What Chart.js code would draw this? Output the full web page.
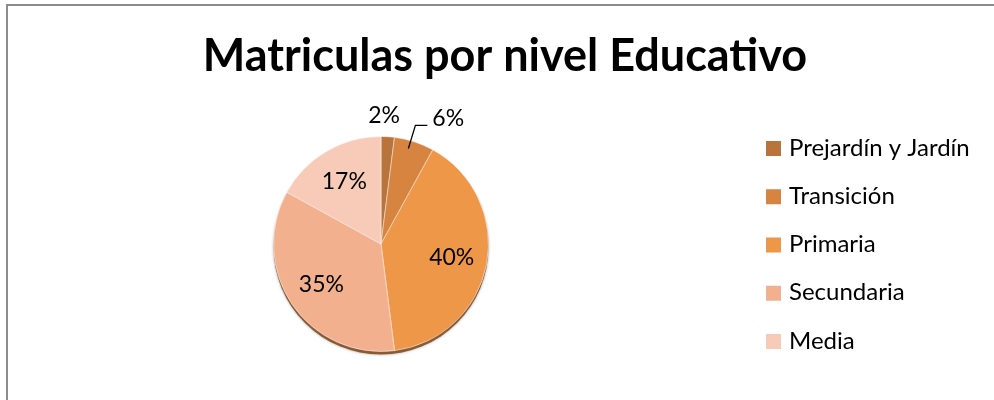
<!DOCTYPE html>
<html>
<head>
<meta charset="utf-8">
<script src="https://cdn.jsdelivr.net/npm/chart.js@4.4.1/dist/chart.umd.min.js"></script>
<style>
  html, body { margin:0; padding:0; background:#fff; overflow:hidden; }
  #wrap {
    position:absolute; left:6px; top:4px;
    width:1000px; height:396px;
    border-top:2px solid #8c8c8c; border-left:2px solid #8c8c8c;
  }
</style>
</head>
<body>
<div id="wrap"><canvas id="pieChart"></canvas></div>
<script>
const titulo = "Matriculas por nivel Educativo";
const niveles = ["Prejardín y Jardín", "Transición", "Primaria", "Secundaria", "Media"];
const porcentajes = [2, 6, 40, 35, 17];
const colores = ["#b8743b", "#d6843f", "#ee9748", "#f2b08f", "#f7cbb7"];

const FONT = "Lato, 'Open Sans', sans-serif";

// title centred over the whole box (not only the pie area)
const boxTitle = {
  id: "boxTitle",
  afterDraw(chart) {
    const ctx = chart.ctx;
    ctx.save();
    ctx.font = "bold 45px " + FONT;
    ctx.fillStyle = "#000";
    ctx.textAlign = "center";
    ctx.textBaseline = "middle";
    ctx.fillText(titulo, 497, 50);
    ctx.restore();
  }
};

// edge under the pie (Excel 3D look)
const pieEdge = {
  id: "pieEdge",
  beforeDatasetsDraw(chart) {
    const arc = chart.getDatasetMeta(0).data[0];
    if (!arc) return;
    const ctx = chart.ctx;
    ctx.save();
    ctx.fillStyle = "#8a5a33";
    ctx.shadowColor = "rgba(0,0,0,0.35)";
    ctx.shadowBlur = 3;
    ctx.beginPath();
    ctx.arc(arc.x, arc.y + 3, arc.outerRadius, 0, Math.PI * 2);
    ctx.fill();
    ctx.restore();
  }
};

// percent labels
const pctLabels = {
  id: "pctLabels",
  afterDatasetsDraw(chart) {
    const ctx = chart.ctx;
    const arcs = chart.getDatasetMeta(0).data;
    ctx.save();
    ctx.font = "23px " + FONT;
    ctx.fillStyle = "#000";
    ctx.textBaseline = "middle";
    arcs.forEach((arc, i) => {
      const v = porcentajes[i];
      const mid = (arc.startAngle + arc.endAngle) / 2;
      const r = arc.outerRadius;
      const txt = v + "%";
      if (v >= 10) {
        ctx.textAlign = "center";
        ctx.fillText(txt, arc.x + Math.cos(mid) * r * 0.67, arc.y + Math.sin(mid) * r * 0.67);
      } else if (i === 0) {
        ctx.textAlign = "center";
        ctx.fillText(txt, arc.x + Math.cos(mid) * r * 1.2 - 5, arc.y + Math.sin(mid) * r * 1.2);
      } else {
        // leader line
        const ex = arc.x + Math.cos(mid) * (r - 6);
        const ey = arc.y + Math.sin(mid) * (r - 6);
        ctx.strokeStyle = "#000";
        ctx.lineWidth = 1.2;
        ctx.beginPath();
        ctx.moveTo(ex - 4, ey + 1);
        ctx.lineTo(ex + 3, ey - 22);
        ctx.lineTo(ex + 15, ey - 22);
        ctx.stroke();
        ctx.textAlign = "left";
        ctx.fillText(txt, ex + 20, ey - 29);
      }
    });
    ctx.restore();
  }
};

// legend on the right
const sideLegend = {
  id: "sideLegend",
  afterDraw(chart) {
    const ctx = chart.ctx;
    ctx.save();
    ctx.font = "24px " + FONT;
    ctx.textBaseline = "middle";
    ctx.textAlign = "left";
    niveles.forEach((n, i) => {
      const y = 142 + i * 48.25;
      ctx.fillStyle = colores[i];
      ctx.fillRect(758, y - 7, 15, 15);
      ctx.fillStyle = "#000";
      ctx.fillText(n, 781, y);
    });
    ctx.restore();
  }
};

new Chart(document.getElementById("pieChart"), {
  type: "pie",
  data: {
    labels: niveles,
    datasets: [{
      data: porcentajes,
      backgroundColor: colores,
      borderColor: "rgba(255,255,255,0.5)",
      borderWidth: 1,
      hoverOffset: 0
    }]
  },
  options: {
    responsive: true,
    maintainAspectRatio: false,
    animation: false,
    layout: { padding: { left: 0, right: 254, top: 130, bottom: 50 } },
    plugins: {
      legend: { display: false },
      tooltip: { enabled: false },
      title: { display: false }
    }
  },
  plugins: [pieEdge, pctLabels, sideLegend, boxTitle]
});
</script>
</body>
</html>
